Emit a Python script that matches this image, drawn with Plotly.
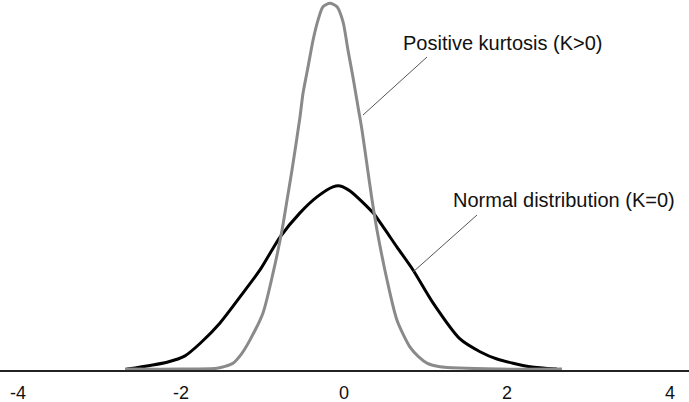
import plotly.graph_objects as go

# Normal distribution (K=0) curve
normal_x = [-2.663, -2.380, -2.172, -1.951, -1.767, -1.521, -1.276, -1.031, -0.785,
            -0.540, -0.331, -0.135, -0.049, 0.074, 0.356, 0.466, 0.650, 0.847,
            1.092, 1.423, 1.669, 1.877, 2.282, 2.613]
normal_y = [0.002, 0.010, 0.017, 0.031, 0.058, 0.103, 0.160, 0.219, 0.291,
            0.344, 0.379, 0.401, 0.403, 0.392, 0.344, 0.317, 0.269, 0.219,
            0.147, 0.068, 0.040, 0.024, 0.007, 0.002]

# Positive kurtosis (K>0) curve
kurt_x = [-2.687, -2.012, -1.558, -1.460, -1.362, -1.255, -1.153, -0.994, -0.871,
          -0.761, -0.699, -0.638, -0.540, -0.503, -0.442, -0.380, -0.319, -0.258,
          -0.172, -0.086, -0.012, 0.049, 0.110, 0.172, 0.221, 0.282, 0.344,
          0.405, 0.528, 0.650, 0.810, 0.920, 1.018, 1.178, 1.914, 2.675]
kurt_y = [0.002, 0.002, 0.004, 0.008, 0.015, 0.036, 0.066, 0.125, 0.212,
          0.306, 0.372, 0.438, 0.554, 0.606, 0.663, 0.722, 0.766, 0.795,
          0.803, 0.795, 0.762, 0.700, 0.641, 0.576, 0.525, 0.449, 0.372,
          0.306, 0.197, 0.109, 0.050, 0.028, 0.015, 0.007, 0.002, 0.002]

tick_vals = [-4, -2, 0, 2, 4]
tick_text = ["-4", "-2", "0", "2", "4"]

label_kurt = "Positive kurtosis (K>0)"
label_normal = "Normal distribution (K=0)"

W, H = 689, 402
PLOT_H = 370

fig = go.Figure()
fig.add_trace(go.Scatter(x=normal_x, y=normal_y, mode="lines",
                         line=dict(color="#000000", width=3, shape="spline", smoothing=0.7),
                         showlegend=False, hoverinfo="skip"))
fig.add_trace(go.Scatter(x=kurt_x, y=kurt_y, mode="lines",
                         line=dict(color="#8a8a8a", width=3, shape="spline", smoothing=0.7),
                         showlegend=False, hoverinfo="skip"))

def px(xp):
    return xp / W

def py(yp):
    return 1 - yp / PLOT_H

# leader lines
fig.add_shape(type="line", xref="paper", yref="paper",
              x0=px(363), y0=py(115), x1=px(427), y1=py(57),
              line=dict(color="#555555", width=1))
fig.add_shape(type="line", xref="paper", yref="paper",
              x0=px(413), y0=py(272), x1=px(477), y1=py(215),
              line=dict(color="#555555", width=1))

fig.add_annotation(text=label_kurt, xref="paper", yref="paper",
                   x=px(401), y=py(43), xanchor="left", yanchor="middle",
                   showarrow=False, font=dict(family="Liberation Sans, Arial", size=20, color="#111111"))
fig.add_annotation(text=label_normal, xref="paper", yref="paper",
                   x=px(451), y=py(200), xanchor="left", yanchor="middle",
                   showarrow=False, font=dict(family="Liberation Sans, Arial", size=20, color="#111111"))

fig.update_layout(
    width=W, height=H,
    margin=dict(l=0, r=0, t=0, b=H - PLOT_H, pad=0),
    paper_bgcolor="white", plot_bgcolor="white",
    xaxis=dict(range=[-4.221, 4.233], tickvals=tick_vals, ticktext=tick_text,
               showgrid=False, zeroline=False, showline=True, linecolor="#222222",
               linewidth=1.5, ticks="", ticklabelstandoff=6, automargin=False,
               layer="below traces",
               tickfont=dict(family="Liberation Sans, Arial", size=18, color="#111111")),
    yaxis=dict(range=[0, 0.81], visible=False, showgrid=False, zeroline=False),
)

fig.write_html("out.html", config={"displayModeBar": False},
               post_script="document.body.style.margin='0';")
